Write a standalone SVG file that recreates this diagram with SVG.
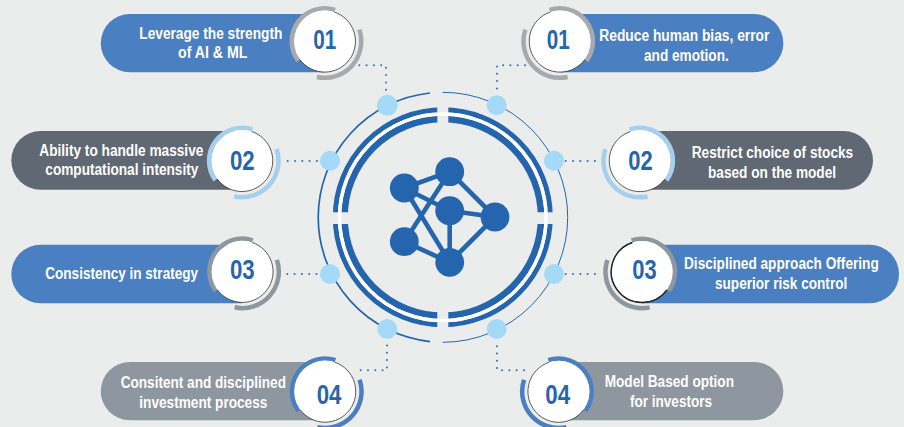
<svg xmlns="http://www.w3.org/2000/svg" xmlns:xlink="http://www.w3.org/1999/xlink" width="904" height="427" viewBox="0 0 904 427">
<style>
.t{font-family:"Liberation Sans",Arial,sans-serif;font-weight:700;font-size:17px;fill:#fff}
.n{font-family:"Liberation Sans",Arial,sans-serif;font-weight:700;font-size:28px;fill:#2565ae}
.ar{fill:none;stroke-width:4.5}
.edge{stroke:#2565ae;stroke-width:4.6}
.dot{fill:none;stroke:#2f6db5;stroke-width:2;stroke-linecap:round;stroke-dasharray:0 7.3}
.lb{fill:#a4d9f8}
.blue{fill:#4a7fc1}.slate{fill:#5f6873}.grey{fill:#8e96a0}
.sg{stroke:#a7a9ac}.sl{stroke:#a5cfee}.sm{stroke:#8e96a0}.sb{stroke:#4a7fc1}
</style>
<defs>
<g id="badge">
<path class="ar" d="M-26.6 19.5A33 33 0 0 1 10.4-31.3"/>
<path class="ar" d="M34.6-11.7A36.5 36.5 0 0 1-7.7 35.7"/>
<circle r="30.8" fill="#fff" stroke="none"/>
<path d="M9.7-29.2A30.8 30.8 0 1 1-24.9 18.2" fill="none" stroke="#333" stroke-width=".8"/>
</g>
<clipPath id="quad">
<rect x="320" y="95" width="117.3" height="117.3"/>
<rect x="448.3" y="95" width="117.3" height="117.3"/>
<rect x="320" y="224" width="117.3" height="117.3"/>
<rect x="448.3" y="224" width="117.3" height="117.3"/>
</clipPath>
</defs>
<rect width="904" height="427" fill="#ebeded"/>
<g id="connectors">
<path class="dot" d="M359.3 65.3H386V94"/>
<path class="dot" d="M525 65.3H497V94"/>
<path class="dot" d="M287.7 161H317"/>
<path class="dot" d="M565.7 161H597"/>
<path class="dot" d="M287.3 274H317"/>
<path class="dot" d="M565.7 274H597"/>
<path class="dot" d="M360.7 370.3H387V340"/>
<path class="dot" d="M524 370.3H497V340"/>
</g>
<g id="hub">
<path d="M430 93A125 125 0 0 0 430 341.6" fill="none" stroke="#2565ae" stroke-width="1.7"/>
<path d="M442.7 92.3A125 125 0 0 1 442.7 342.3" fill="none" stroke="#2565ae" stroke-width="1"/>
<g clip-path="url(#quad)" fill="none" stroke="#2565ae">
<circle cx="442.8" cy="217.3" r="107.5" stroke-width="5"/>
<circle cx="442.8" cy="217.3" r="98.3" stroke-width="6.6"/>
</g>
<circle cx="442.8" cy="217.3" r="103.3" fill="none" stroke="#fff" stroke-width="3.4"/>
<circle class="lb" cx="387.3" cy="105.3" r="10.5"/>
<circle class="lb" cx="496.7" cy="105.3" r="10"/>
<circle class="lb" cx="330" cy="160.7" r="10"/>
<circle class="lb" cx="554" cy="160.7" r="10"/>
<circle class="lb" cx="330" cy="274" r="10"/>
<circle class="lb" cx="554" cy="274" r="10"/>
<circle class="lb" cx="387.3" cy="329" r="10"/>
<circle class="lb" cx="496.7" cy="329" r="10"/>
<g class="edge">
<line x1="404.3" y1="188" x2="449.7" y2="171.7"/>
<line x1="404.3" y1="188" x2="449.7" y2="210.7"/>
<line x1="404.3" y1="188" x2="449.7" y2="262.3"/>
<line x1="449.7" y1="171.7" x2="495" y2="217"/>
<line x1="449.7" y1="171.7" x2="404.3" y2="241.7"/>
<line x1="449.7" y1="210.7" x2="495" y2="217"/>
<line x1="449.7" y1="210.7" x2="449.7" y2="262.3"/>
<line x1="495" y1="217" x2="449.7" y2="262.3"/>
<line x1="404.3" y1="241.7" x2="449.7" y2="262.3"/>
</g>
<g fill="#2565ae">
<circle cx="404.3" cy="188" r="14.4"/>
<circle cx="449.7" cy="171.7" r="14.4"/>
<circle cx="449.7" cy="210.7" r="14.4"/>
<circle cx="495" cy="217" r="14.4"/>
<circle cx="404.3" cy="241.7" r="14.4"/>
<circle cx="449.7" cy="262.3" r="14.4"/>
</g>
</g>
<g id="left-01">
<path class="blue" d="M324.7 14H129.9A29.15 29.15 0 0 0 129.9 72.3H324.7Z"/>
<use href="#badge" class="sg" transform="translate(324.7 41.3)"/>
<text class="t" transform="translate(139.3 38.5) scale(.88 1)" textLength="162.5" lengthAdjust="spacingAndGlyphs">Leverage the strength</text>
<text class="t" transform="translate(178 58.3) scale(.88 1)" textLength="78.8" lengthAdjust="spacingAndGlyphs">of AI &amp; ML</text>
<text class="n" transform="translate(313.3 49) scale(.78 1)" textLength="29.5" lengthAdjust="spacingAndGlyphs">01</text>
</g>
<g id="left-02">
<path class="slate" d="M242 131H40.7A29.4 29.4 0 0 0 40.7 189.8H242Z"/>
<use href="#badge" class="sl" transform="translate(242 160.7)"/>
<text class="t" transform="translate(39.3 155.7) scale(.88 1)" textLength="186.4" lengthAdjust="spacingAndGlyphs">Ability to handle massive</text>
<text class="t" transform="translate(45.3 175) scale(.88 1)" textLength="173.9" lengthAdjust="spacingAndGlyphs">computational intensity</text>
<text class="n" transform="translate(230 170) scale(.78 1)" textLength="31.7" lengthAdjust="spacingAndGlyphs">02</text>
</g>
<g id="left-03">
<path class="blue" d="M242.3 244.7H40.6A29.3 29.3 0 0 0 40.6 303.3H242.3Z"/>
<use href="#badge" class="sm" transform="translate(242.3 271.6)"/>
<text class="t" transform="translate(45.3 279.3) scale(.88 1)" textLength="173.5" lengthAdjust="spacingAndGlyphs">Consistency in strategy</text>
<text class="n" transform="translate(230 279.3) scale(.78 1)" textLength="31.7" lengthAdjust="spacingAndGlyphs">03</text>
</g>
<g id="left-04">
<path class="grey" d="M325 362H129.9A29.15 29.15 0 0 0 129.9 420.3H325Z"/>
<use href="#badge" class="sb" transform="translate(325 391.4)"/>
<text class="t" transform="translate(120.7 388.3) scale(.88 1)" textLength="187.8" lengthAdjust="spacingAndGlyphs">Consitent and disciplined</text>
<text class="t" transform="translate(139.3 408) scale(.88 1)" textLength="145.5" lengthAdjust="spacingAndGlyphs">investment process</text>
<text class="n" transform="translate(316.7 403.7) scale(.78 1)" textLength="31.7" lengthAdjust="spacingAndGlyphs">04</text>
</g>
<g id="right-01">
<path class="blue" d="M560 14H754.2A29.15 29.15 0 0 1 754.2 72.3H560Z"/>
<use href="#badge" class="sg" transform="translate(560 41.3) scale(-1 1)"/>
<text class="t" transform="translate(599.3 41) scale(.88 1)" textLength="193.2" lengthAdjust="spacingAndGlyphs">Reduce human bias, error</text>
<text class="t" transform="translate(644 61) scale(.88 1)" textLength="96.3" lengthAdjust="spacingAndGlyphs">and emotion.</text>
<text class="n" transform="translate(546.7 49) scale(.78 1)" textLength="29.5" lengthAdjust="spacingAndGlyphs">01</text>
</g>
<g id="right-02">
<path class="slate" d="M640 131H843.6A29.4 29.4 0 0 1 843.6 189.8H640Z"/>
<use href="#badge" class="sl" transform="translate(640 160.8) scale(-1 1)"/>
<text class="t" transform="translate(691.7 157.7) scale(.88 1)" textLength="183.5" lengthAdjust="spacingAndGlyphs">Restrict choice of stocks</text>
<text class="t" transform="translate(708 177.7) scale(.88 1)" textLength="145.5" lengthAdjust="spacingAndGlyphs">based on the model</text>
<text class="n" transform="translate(628.3 170) scale(.78 1)" textLength="31.3" lengthAdjust="spacingAndGlyphs">02</text>
</g>
<g id="right-03">
<path class="blue" d="M642 244.7H869.7A29.3 29.3 0 0 1 869.7 303.3H642Z"/>
<use href="#badge" class="sm" transform="translate(642 271.7) scale(-1 1)"/>
<path d="M-9.7-29.2A30.8 30.8 0 1 0 24.9 18.2" transform="translate(642 271.7)" fill="none" stroke="#222" stroke-width="1.4"/>
<text class="t" transform="translate(684 269.3) scale(.88 1)" textLength="221.3" lengthAdjust="spacingAndGlyphs">Disciplined approach Offering</text>
<text class="t" transform="translate(715 289.3) scale(.88 1)" textLength="150.3" lengthAdjust="spacingAndGlyphs">superior risk control</text>
<text class="n" transform="translate(632.3 279.3) scale(.78 1)" textLength="31.3" lengthAdjust="spacingAndGlyphs">03</text>
</g>
<g id="right-04">
<path class="grey" d="M558.7 362H754.2A29.15 29.15 0 0 1 754.2 420.3H558.7Z"/>
<use href="#badge" class="sb" transform="translate(558.7 391.5) scale(-1 1)"/>
<text class="t" transform="translate(604.7 387) scale(.88 1)" textLength="146.9" lengthAdjust="spacingAndGlyphs">Model Based option</text>
<text class="t" transform="translate(630 407) scale(.88 1)" textLength="93.2" lengthAdjust="spacingAndGlyphs">for investors</text>
<text class="n" transform="translate(545.3 403.7) scale(.78 1)" textLength="31.7" lengthAdjust="spacingAndGlyphs">04</text>
</g>
</svg>
